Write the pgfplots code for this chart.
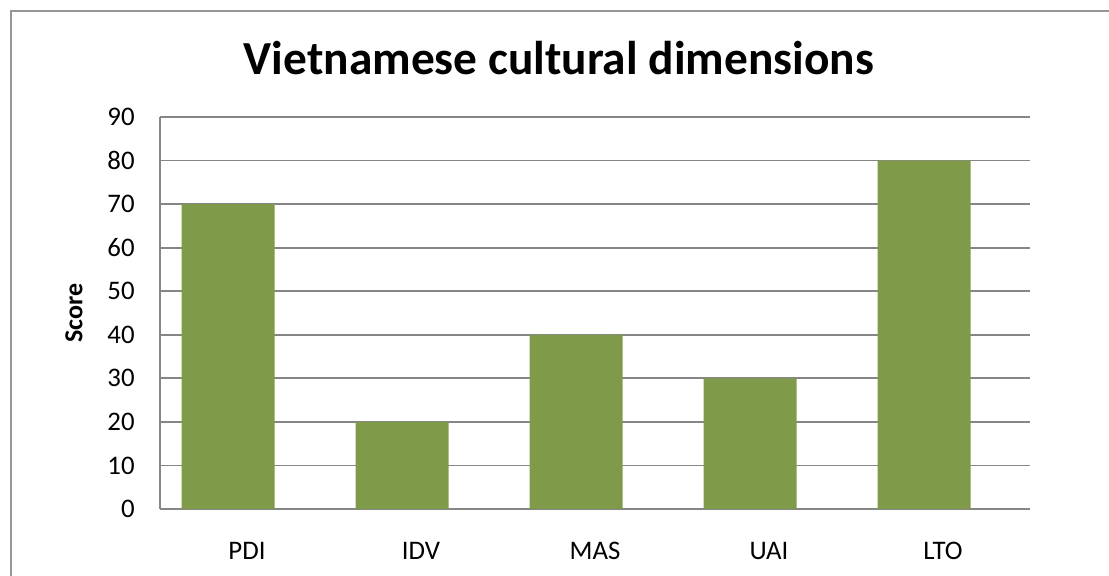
\documentclass[border=0pt]{standalone}
\usepackage{fontspec}
\setmainfont{Carlito}
\usepackage{pgfplots}
\pgfplotsset{compat=1.18}

\definecolor{barolive}{RGB}{127,155,73}
\definecolor{gridgray}{RGB}{134,134,134}
\definecolor{framegray}{RGB}{150,150,150}

\begin{document}
\begin{tikzpicture}
% page = 1109 x 576 px at 0.5pt per px
\useasboundingbox (0,0) rectangle (554.5pt,288pt);
% chart frame (right and bottom edges fall outside the picture)
\draw[framegray, line width=0.9pt] (5.35pt,0) -- (5.35pt,282.5pt) -- (554.5pt,282.5pt);

\node[anchor=base, font=\fontsize{23.7}{28}\selectfont\bfseries] at (279.5pt,250.5pt)
    {Vietnamese cultural dimensions};

\begin{axis}[
    at={(80pt,33.5pt)},
    anchor=south west,
    scale only axis,
    width=435pt,
    height=196pt,
    xmin=-0.5, xmax=4.5,
    ymin=0, ymax=90,
    ytick={0,10,...,90},
    xtick={0,1,2,3,4},
    xticklabels={PDI,IDV,MAS,UAI,LTO},
    axis x line*=bottom,
    axis y line*=left,
    axis line style={gridgray, line width=0.9pt},
    ymajorgrids,
    grid style={gridgray, line width=0.9pt},
    major tick length=0pt,
    /pgf/number format/assume math mode=true,
    tick label style={font=\fontsize{13.4}{16}\selectfont, inner sep=0pt},
    yticklabel style={anchor=east, xshift=-12.5pt},
    xticklabel style={anchor=base, yshift=-25.5pt},
    ylabel={Score},
    ylabel style={at={(axis description cs:0,0.5)}, anchor=center, yshift=43pt,
        font=\fontsize{13}{16}\selectfont\bfseries},
]
% bars sit left of the category centre, as in the source chart
\addplot[ybar, bar width=46.5pt, bar shift=-9.4pt, fill=barolive, draw=none]
    coordinates {(0,70) (1,20) (2,40) (3,30) (4,80)};
\end{axis}
\end{tikzpicture}
\end{document}
